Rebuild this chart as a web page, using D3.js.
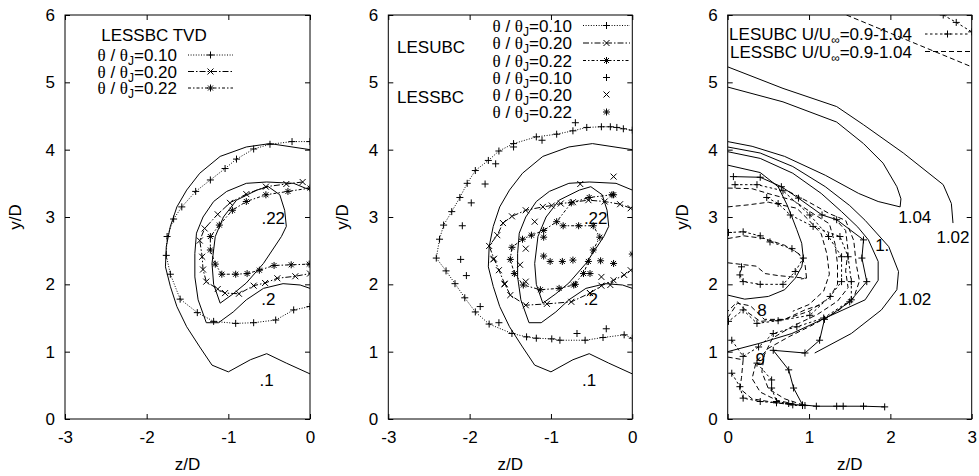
<!DOCTYPE html>
<html><head><meta charset="utf-8">
<script src="https://cdn.jsdelivr.net/npm/d3@7"></script>
<style>body{margin:0;background:#fff}svg{display:block}text{font-family:"Liberation Sans",Arial,sans-serif;white-space:pre}</style>
</head><body><svg id="c" width="979" height="476"></svg>
<script>
// ---------- tick labels ----------
const xTicksNeg = [-3, -2, -1, 0];
const xTicksPos = [0, 1, 2, 3];
const yTicks = [0, 1, 2, 3, 4, 5, 6];

// ---------- panels 1 & 2 : reference solid contours ----------
const contour10 = [[0,4.0],[-0.49,4.09],[-0.78,4.04],[-1.10,3.90],[-1.35,3.65],[-1.51,3.40],[-1.63,3.15],[-1.71,2.86],[-1.76,2.56],[-1.77,2.26],[-1.71,1.97],[-1.63,1.67],[-1.51,1.37],[-1.35,1.07],[-1.20,0.80],[-1.0,0.70],[-0.73,0.88],[-0.53,0.97],[-0.29,0.83],[0,0.67]];
const contour20 = [[0,3.40],[-0.20,3.50],[-0.53,3.52],[-0.78,3.50],[-1.02,3.38],[-1.18,3.23],[-1.31,3.0],[-1.39,2.76],[-1.41,2.46],[-1.41,2.11],[-1.37,1.77],[-1.27,1.43],[-1.12,1.43],[-0.94,1.59],[-0.78,1.77],[-0.57,1.94],[-0.33,2.01],[-0.12,1.99],[0,1.94]];
const contour22 = [[-1.10,1.72],[-1.18,2.0],[-1.20,2.31],[-1.16,2.71],[-1.06,3.0],[-0.90,3.25],[-0.65,3.40],[-0.51,3.45],[-0.37,3.33],[-0.31,3.10],[-0.29,2.86],[-0.35,2.71],[-0.57,2.31],[-0.78,2.02],[-0.94,1.86],[-1.10,1.72]];
const contourLabels = [".22", ".2", ".1"];
const contourLabelPos = [[-0.45,2.98],[-0.51,1.78],[-0.53,0.58]];

// ---------- panel 1 : LESSBC TVD ----------
const tvd10 = [[0,4.12],[-0.22,4.12],[-0.49,4.08],[-0.69,4.01],[-0.90,3.86],[-1.04,3.72],[-1.22,3.55],[-1.40,3.38],[-1.57,3.15],[-1.67,2.97],[-1.75,2.71],[-1.76,2.43],[-1.71,2.15],[-1.59,1.78],[-1.38,1.58],[-1.18,1.45],[-0.91,1.42],[-0.69,1.43],[-0.42,1.47],[-0.20,1.62],[0,1.67]];
const tvd20 = [[-0.09,3.52],[-0.29,3.49],[-0.54,3.45],[-0.78,3.34],[-0.98,3.21],[-1.13,3.04],[-1.29,2.83],[-1.35,2.65],[-1.32,2.41],[-1.31,2.22],[-1.27,2.04],[-1.13,1.93],[-1.04,1.87],[-0.87,1.86],[-0.69,1.98],[-0.55,2.02],[-0.40,2.09],[-0.18,2.12],[0,2.16]];
const tvd22 = [[0,3.43],[-0.27,3.38],[-0.54,3.33],[-0.78,3.23],[-0.95,3.10],[-1.11,2.88],[-1.22,2.71],[-1.22,2.51],[-1.16,2.30],[-1.08,2.15],[-0.91,2.15],[-0.77,2.16],[-0.62,2.21],[-0.44,2.28],[-0.23,2.29],[-0.01,2.30]];

// ---------- panel 2 : LESUBC lines, LESSBC points ----------
const ubc10 = [[0,4.29],[-0.11,4.31],[-0.19,4.33],[-0.27,4.34],[-0.38,4.34],[-0.56,4.33],[-0.73,4.28],[-0.93,4.23],[-1.18,4.19],[-1.46,4.09],[-1.64,3.98],[-1.77,3.84],[-1.93,3.69],[-2.03,3.50],[-2.12,3.29],[-2.22,3.08],[-2.32,2.88],[-2.37,2.67],[-2.41,2.39],[-2.29,2.20],[-2.18,2.01],[-2.06,1.80],[-1.93,1.59],[-1.76,1.41],[-1.48,1.27],[-1.30,1.22],[-1.18,1.20],[-0.99,1.19],[-0.89,1.17],[-0.58,1.17],[-0.36,1.21],[-0.10,1.25],[0,1.20]];
const ubc20 = [[-0.02,3.13],[-0.15,3.19],[-0.34,3.23],[-0.54,3.25],[-0.73,3.22],[-0.88,3.20],[-0.99,3.17],[-1.10,3.15],[-1.31,3.10],[-1.48,3.01],[-1.59,2.91],[-1.66,2.73],[-1.76,2.57],[-1.70,2.38],[-1.64,2.21],[-1.57,2.01],[-1.50,1.84],[-1.31,1.69],[-1.05,1.71],[-0.75,1.74],[-0.52,1.87],[-0.38,1.98],[-0.23,2.06],[-0.10,2.14],[-0.02,2.21]];
const ubc22 = [[-0.25,3.33],[-0.53,3.29],[-0.75,3.21],[-0.93,2.93],[-1.09,2.80],[-1.24,2.73],[-1.35,2.67],[-1.48,2.55],[-1.50,2.37],[-1.45,2.16],[-1.34,1.99],[-1.13,1.92],[-0.90,1.94],[-0.72,1.99],[-0.60,2.16],[-0.54,2.34],[-0.48,2.51],[-0.40,2.70],[-0.48,2.87],[-0.66,2.87],[-0.85,2.87]];
const ssbc10 = [[-0.70,4.40],[-1.11,4.14],[-1.46,4.04],[-1.68,3.79],[-1.81,3.49],[-1.98,3.21],[-2.09,2.87],[-2.11,2.37],[-2.04,2.13],[-1.87,1.67],[-1.64,1.43],[-0.68,1.27],[-0.32,1.34]];
const ssbc20 = [[-0.23,3.60],[-0.64,3.49],[-1.20,2.93],[-1.31,2.53],[-1.38,2.29],[-1.31,2.04],[-1.57,2.00],[-1.71,2.37],[-0.38,2.11],[-0.27,1.99],[-0.52,1.87]];
const ssbc22 = [[-1.09,2.70],[-1.09,2.42],[-1.01,2.34],[-0.86,2.34],[-0.73,2.36],[-0.39,2.35],[-0.23,2.31],[0,2.45],[-0.23,3.33],[-0.52,2.16],[-0.70,2.00]];

// ---------- panel 3 : velocity contours ----------
const vel102a = [[0,5.23],[0.68,4.91],[1.34,4.64],[1.67,4.37],[2.16,3.95],[2.65,3.48],[2.75,3.2],[2.77,2.91]];
const vel104 = [[0,4.93],[0.68,4.71],[1.34,4.41],[1.67,4.09],[1.91,3.80],[2.08,3.45],[2.13,3.27],[2.12,3.15],[1.85,3.23],[1.61,3.35],[1.2,3.62],[0.7,3.9],[0.3,4.05],[0,4.12]];
const vel102b = [[0,4.04],[0.4,3.95],[0.8,3.75],[1.2,3.45],[1.5,3.17],[1.69,2.95],[1.98,2.56],[2.10,2.19],[2.08,1.92],[1.89,1.62],[1.52,1.27],[1.07,0.98]];
const vel100 = [[0,3.97],[0.4,3.87],[0.8,3.65],[1.15,3.35],[1.4,3.08],[1.6,2.85],[1.73,2.66],[1.85,2.34],[1.85,2.06],[1.69,1.77],[1.2,1.50],[0.79,1.27],[0.38,1.12],[0,1.0]];
const velInner = [[0,3.77],[0.4,3.66],[0.62,3.45],[0.73,3.18],[0.79,3.0],[0.85,2.81],[0.91,2.61],[0.93,2.39],[0.91,2.26],[0.83,2.09],[0.70,1.92],[0.5,1.82],[0.21,1.78],[0,1.84]];
const velSolidPlus = [[0.07,3.60],[0.40,3.59],[0.66,3.45],[0.87,3.28],[1.16,3.03],[1.34,2.96],[1.67,2.66],[1.65,2.39],[1.71,2.04],[1.50,1.74],[1.19,1.48],[1.13,1.17],[0.95,0.98],[0.56,1.02],[0.75,0.73],[0.81,0.46],[0.92,0.21],[1.09,0.19],[1.34,0.19],[1.42,0.19],[1.67,0.19],[1.93,0.18]];
const ubcU1 = [[0.09,3.48],[0.36,3.48],[0.68,3.39],[1.01,3.03],[1.24,2.71],[1.40,2.41],[1.40,2.04],[1.26,1.82],[1.01,1.54],[0.62,1.46],[0.36,1.42],[0.19,1.62],[0.01,1.45]];
const ubcU2 = [[0.48,3.29],[0.62,3.20],[0.77,3.03],[1.05,2.86],[1.38,2.71],[1.48,2.41],[1.52,2.04],[1.52,1.77],[1.18,1.50],[0.85,1.37],[0.56,1.27],[0.38,1.07],[0.19,0.93],[0.05,1.17]];
const ubcU3 = [[0.01,2.77],[0.19,2.78],[0.40,2.72],[0.52,2.63],[0.79,2.53],[0.93,2.39],[0.83,2.19],[0.68,2.00],[0.40,2.00],[0.19,2.04],[0.15,2.14],[0.17,2.26]];
const ubcU4 = [[0.05,0.68],[0.15,0.48],[0.19,0.31],[0.40,0.26],[0.60,0.24],[0.80,0.21],[0.95,0.20]];
const ubcU5 = [[0.36,0.83],[0.54,0.58],[0.54,0.46],[0.60,0.26],[0.75,0.23],[0.92,0.20]];
const ubcTop = [[2.65,6.0],[2.81,5.89],[3.0,5.75]];
const sbcL1 = [[0,3.43],[0.3,3.42],[0.55,3.33],[0.8,3.25],[1.05,3.05],[1.25,2.9],[1.32,2.6],[1.35,2.3],[1.35,2.0],[1.25,1.8],[1.0,1.6],[0.7,1.48],[0.4,1.45],[0.25,1.58],[0.12,1.74],[0,1.6]];
const sbcL2 = [[0,3.15],[0.25,3.18],[0.5,3.22],[0.85,3.13],[1.0,2.95],[1.15,2.75],[1.22,2.45],[1.25,2.15],[1.18,1.9],[1.0,1.7],[0.8,1.6]];
const sbcL3 = [[0.75,3.38],[1.0,3.22],[1.25,3.05],[1.45,2.95],[1.55,2.65],[1.58,2.3],[1.62,2.05],[1.55,1.8],[1.35,1.6],[1.05,1.4],[0.75,1.22],[0.5,1.05],[0.35,0.85],[0.3,0.6],[0.4,0.4],[0.6,0.28],[0.9,0.2]];
const sbcL4 = [[1.3,3.0],[1.45,2.8],[1.48,2.5],[1.45,2.2],[1.48,1.95],[1.35,1.75],[1.1,1.55],[0.8,1.38],[0.55,1.2],[0.45,0.95],[0.42,0.7],[0.5,0.45],[0.7,0.3],[0.95,0.2]];
const sbcL5 = [[0,2.68],[0.2,2.72],[0.45,2.68],[0.7,2.58],[0.88,2.45],[0.95,2.3],[0.97,2.09],[0.9,2.08]];
const sbcL6 = [[0,2.32],[0.21,2.29],[0.35,2.27],[0.46,2.16],[0.62,2.13],[0.79,2.11],[0.97,2.09]];
const sbcL7 = [[0,1.5],[0.12,1.72],[0.28,1.68],[0.45,1.48],[0.7,1.48],[0.95,1.62],[1.15,1.7]];
const sbcL8 = [[0,0.92],[0.19,0.88],[0.17,0.62],[0.15,0.45],[0.3,0.3],[0.55,0.25],[0.85,0.2]];
const sbcTop = [[1.46,6.0],[3.0,5.23]];
const velLabels = ["1.04", "1.02", "1.", "1.02", "8", "9"];
const velLabelPos = [[2.30,3.0],[2.77,2.70],[1.90,2.58],[2.30,1.79],[0.42,1.62],[0.40,0.90]];

// ---------- drawing ----------
const svg = d3.select("#c");
const TOP = 15, BOT = 419, FS = 17, CAP = 6.1;
const FONT = '"Liberation Sans", Arial, sans-serif';
const DASH = {dot: "1,1.6", dd: "6,2,1.5,2", ddd: "3,2,1.5,2", ubc: "2.5,2.5", sbc: "5,3"};

function markerPath(type, px, py) {
  const s = 3.5, c = 3;
  const plus = `M${px-s},${py}H${px+s}M${px},${py-s}V${py+s}`;
  const cross = `M${px-c},${py-c}L${px+c},${py+c}M${px-c},${py+c}L${px+c},${py-c}`;
  if (type === "+") return plus;
  if (type === "x") return cross;
  return plus + `M${px-2.5},${py-2.5}L${px+2.5},${py+2.5}M${px-2.5},${py+2.5}L${px+2.5},${py-2.5}`;
}

function makePanel(x0, x1, xdom, xticks, ytitleX) {
  const x = d3.scaleLinear().domain(xdom).range([x0, x1]);
  const y = d3.scaleLinear().domain([0, 6]).range([BOT, TOP]);
  const g = svg.append("g");
  const id = "clip" + Math.round(x0);
  svg.append("clipPath").attr("id", id).append("rect")
    .attr("x", x0).attr("y", TOP).attr("width", x1 - x0).attr("height", BOT - TOP);
  const fmt = d => String(d);
  const ax = [
    g.append("g").attr("transform", `translate(0,${BOT})`).call(d3.axisBottom(x).tickValues(xticks).tickSize(-5).tickPadding(12).tickFormat(fmt)),
    g.append("g").attr("transform", `translate(0,${TOP})`).call(d3.axisTop(x).tickValues(xticks).tickSize(-5).tickFormat("")),
    g.append("g").attr("transform", `translate(${x0},0)`).call(d3.axisLeft(y).tickValues(yTicks).tickSize(-5).tickPadding(10).tickFormat(fmt)),
    g.append("g").attr("transform", `translate(${x1},0)`).call(d3.axisRight(y).tickValues(yTicks).tickSize(-5).tickFormat(""))
  ];
  ax.forEach(a => {
    a.select(".domain").remove();
    a.attr("font-family", FONT).attr("font-size", FS);
    a.selectAll("text").attr("fill", "#000");
    a.selectAll("line").attr("stroke", "#000");
  });
  g.append("rect").attr("x", x0).attr("y", TOP).attr("width", x1 - x0).attr("height", BOT - TOP)
    .attr("fill", "none").attr("stroke", "#000").attr("stroke-width", 1);
  g.append("text").attr("transform", `translate(${ytitleX},${(TOP+BOT)/2}) rotate(-90)`)
    .attr("text-anchor", "middle").attr("dy", "0.35em").attr("font-size", FS).text("y/D");
  g.append("text").attr("x", (x0 + x1) / 2).attr("y", 469.5).attr("text-anchor", "middle").attr("font-size", FS).text("z/D");
  const plot = g.append("g").attr("clip-path", `url(#${id})`);
  return {x, y, g, plot};
}

function drawLine(P, data, dash, marker, width) {
  const line = d3.line().x(d => P.x(d[0])).y(d => P.y(d[1]));
  if (dash !== null) {
    P.plot.append("path").attr("d", line(data)).attr("fill", "none")
      .attr("stroke", "#000").attr("stroke-width", width || 1)
      .attr("stroke-dasharray", dash || null);
  }
  if (marker) {
    P.plot.append("path").attr("d", data.map(d => markerPath(marker, P.x(d[0]), P.y(d[1]))).join(""))
      .attr("fill", "none").attr("stroke", "#000").attr("stroke-width", 1);
  }
}

function labels(P, texts, pos) {
  texts.forEach((t, i) => {
    P.g.append("text").attr("x", P.x(pos[i][0])).attr("y", P.y(pos[i][1]) + CAP)
      .attr("text-anchor", "middle").attr("font-size", FS).attr("fill", "#000").text(t);
  });
}

function thetaLabel(g, xEnd, yMid, val) {
  const t = g.append("text").attr("x", xEnd).attr("y", yMid + CAP).attr("text-anchor", "end").attr("font-size", FS);
  t.append("tspan").attr("font-family", '"Liberation Serif", serif').text("\u03b8");
  t.append("tspan").text(" / ");
  t.append("tspan").attr("font-family", '"Liberation Serif", serif').text("\u03b8");
  t.append("tspan").attr("font-size", 12).attr("dy", 4).text("J");
  t.append("tspan").attr("dy", -4).text("=" + val);
}

function legendSample(g, xa, xb, yy, dash, marker) {
  if (dash !== null) g.append("line").attr("x1", xa).attr("x2", xb).attr("y1", yy).attr("y2", yy)
    .attr("stroke", "#000").attr("stroke-dasharray", dash || null);
  if (marker) g.append("path").attr("d", markerPath(marker, (xa + xb) / 2, yy)).attr("fill", "none").attr("stroke", "#000");
}

// Panel 1
const P1 = makePanel(65, 310, [-3, 0], xTicksNeg, 15);
[contour10, contour20, contour22].forEach(c => drawLine(P1, c, ""));
drawLine(P1, tvd10, DASH.dot, "+");
drawLine(P1, tvd20, DASH.dd, "x");
drawLine(P1, tvd22, DASH.ddd, "*");
labels(P1, contourLabels, contourLabelPos);
P1.g.append("text").attr("x", 154).attr("y", 35 + CAP).attr("text-anchor", "middle").attr("font-size", FS).text("LESSBC TVD");
[["0.10", 55, DASH.dot, "+"], ["0.20", 71.5, DASH.dd, "x"], ["0.22", 88, DASH.ddd, "*"]].forEach(r => {
  thetaLabel(P1.g, 177, r[1], r[0]);
  legendSample(P1.g, 188, 233, r[1], r[2], r[3]);
});

// Panel 2
const P2 = makePanel(388.3, 632.3, [-3, 0], xTicksNeg, 342);
[contour10, contour20, contour22].forEach(c => drawLine(P2, c, ""));
drawLine(P2, ubc10, DASH.dot, "+");
drawLine(P2, ubc20, DASH.dd, "x");
drawLine(P2, ubc22, DASH.ddd, "*");
drawLine(P2, ssbc10, null, "+");
drawLine(P2, ssbc20, null, "x");
drawLine(P2, ssbc22, null, "*");
labels(P2, contourLabels, contourLabelPos);
P2.g.append("text").attr("x", 397).attr("y", 46.7 + CAP).attr("font-size", FS).text("LESUBC");
P2.g.append("text").attr("x", 397).attr("y", 96.7 + CAP).attr("font-size", FS).text("LESSBC");
[["0.10", 25.5, DASH.dot, "+"], ["0.20", 43, DASH.dd, "x"], ["0.22", 60.5, DASH.ddd, "*"],
 ["0.10", 77.5, null, "+"], ["0.20", 94.5, null, "x"], ["0.22", 112, null, "*"]].forEach(r => {
  thetaLabel(P2.g, 572, r[1], r[0]);
  legendSample(P2.g, 583, 630, r[1], r[2], r[3]);
});

// Panel 3
const P3 = makePanel(727.7, 971.7, [0, 3], xTicksPos, 682);
[vel102a, vel104, vel102b, vel100, velInner].forEach(c => drawLine(P3, c, ""));
drawLine(P3, velSolidPlus, "", "+");
[ubcU1, ubcU2, ubcU3, ubcU4, ubcU5, ubcTop].forEach(c => drawLine(P3, c, DASH.ubc, "+"));
[sbcL1, sbcL2, sbcL3, sbcL4, sbcL5, sbcL6, sbcL7, sbcL8, sbcTop].forEach(c => drawLine(P3, c, DASH.sbc));
labels(P3, velLabels, velLabelPos);
[["LESUBC", 34, DASH.ubc, "+"], ["LESSBC", 51.5, DASH.sbc, null]].forEach(r => {
  const t = P3.g.append("text").attr("x", 912).attr("y", r[1] + CAP).attr("text-anchor", "end").attr("font-size", FS);
  t.append("tspan").text(r[0] + " U/U");
  t.append("tspan").attr("font-size", 12).attr("dy", 4).text("\u221e");
  t.append("tspan").attr("dy", -4).text("=0.9-1.04");
  legendSample(P3.g, 925, 970, r[1], r[2], r[3]);
});
</script></body></html>
